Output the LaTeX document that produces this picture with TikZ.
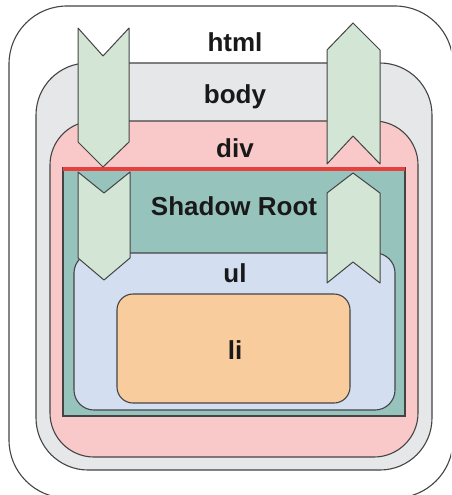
\documentclass[tikz,border=0pt]{standalone}
\usepackage{fontspec}
\setmainfont{Liberation Sans}

\definecolor{bodygray}{HTML}{E6E7E9}
\definecolor{divpink}{HTML}{F9C9CA}
\definecolor{shadowteal}{HTML}{97C3BD}
\definecolor{ulblue}{HTML}{D3DFF0}
\definecolor{liorange}{HTML}{F9CC9E}
\definecolor{flowgreen}{HTML}{D3E5D4}
\definecolor{edgegray}{HTML}{444444}
\definecolor{rootred}{HTML}{E8403F}

\tikzset{
  box/.style={draw=edgegray,line width=1.1pt},
  flow/.style={draw=edgegray,line width=1pt,fill=flowgreen,line join=round},
  lbl/.style={font=\fontsize{26}{30}\selectfont\bfseries,text=black!90}
}

\begin{document}
\begin{tikzpicture}[x=1pt,y=-1pt]
\useasboundingbox (0,0) rectangle (451,495);

% html runs off the right and bottom edges
\begin{scope}
\clip (0,0) rectangle (451,495);
\draw[box,fill=white,rounded corners=58] (9,6) rectangle (453,498);
\end{scope}

\draw[box,fill=bodygray,rounded corners=52] (36,63) rectangle (432,470);
\draw[box,fill=divpink,rounded corners=44] (50,121) rectangle (418,457);

% shadow root with its red top edge
\draw[box,fill=shadowteal] (63,168) rectangle (405,416);
\draw[rootred,line width=4pt] (63,169) -- (405,169);

\draw[box,fill=ulblue,rounded corners=20] (74,253) rectangle (395,410);
\draw[box,fill=liorange,rounded corners=16] (117,294) rectangle (350,403);

% going down on the left
\draw[flow] (78,28) -- (103,56) -- (129,28) -- (129,142) -- (103,167) -- (78,142) -- cycle;
\draw[flow] (78,172) -- (104,193) -- (130,172) -- (130,258) -- (104,280) -- (78,258) -- cycle;

% coming back up on the right
\draw[flow] (353,23) -- (380,50) -- (380,164) -- (353,136) -- (327,164) -- (327,50) -- cycle;
\draw[flow] (353,173) -- (380,193) -- (380,283) -- (353,262) -- (327,283) -- (327,193) -- cycle;

\node[lbl] (html) at (235,42) {html};
\node[lbl] (body) at (235,97) {body};
\node[lbl] (div) at (235,148) {div};
\node[lbl] (root) at (234,206) {Shadow Root};
\node[lbl] (ul) at (235,273) {ul};
\node[lbl] (li) at (235,350) {li};
\end{tikzpicture}
\end{document}
